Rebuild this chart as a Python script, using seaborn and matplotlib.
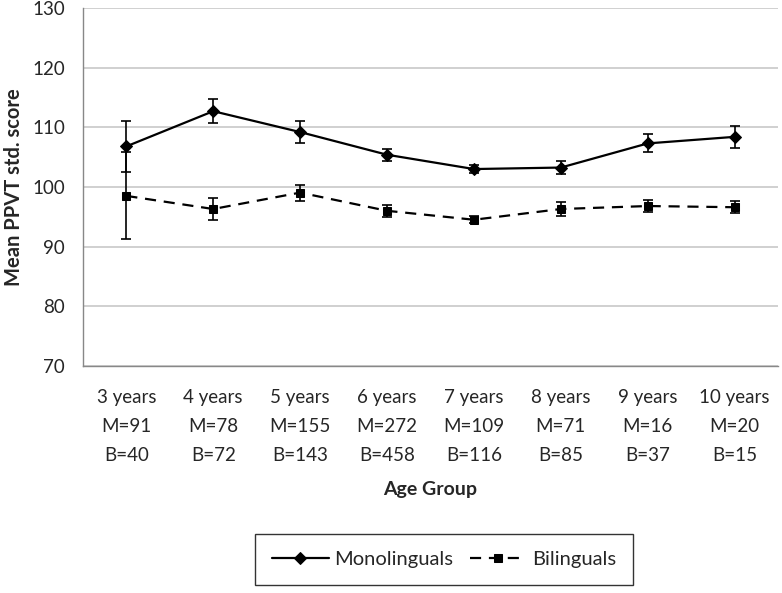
import numpy as np
import pandas as pd
import seaborn as sns
import matplotlib
matplotlib.use("Agg")
from matplotlib import pyplot as plt

# 데이터
age_groups = ['3 years', '4 years', '5 years', '6 years', '7 years', '8 years', '9 years', '10 years']
mono_n = [91, 78, 155, 272, 109, 71, 16, 20]
bi_n = [40, 72, 143, 458, 116, 85, 37, 15]
mono_mean = [106.8, 112.7, 109.2, 105.4, 103.0, 103.25, 107.3, 108.4]
mono_err = [4.3, 2.05, 1.9, 1.0, 0.7, 1.05, 1.5, 1.9]
bi_mean = [98.5, 96.3, 99.05, 96.0, 94.5, 96.3, 96.8, 96.6]
bi_err = [7.3, 1.8, 1.35, 1.05, 0.6, 1.1, 1.05, 1.05]

sns.set_style('white')
plt.rcParams['font.family'] = ['Lato', 'DejaVu Sans']

tick_labels = ['{0}\nM={1}\nB={2}'.format(a, m, b) for a, m, b in zip(age_groups, mono_n, bi_n)]
xpos = np.arange(len(age_groups))

df = pd.DataFrame({'x': xpos, 'mono': mono_mean, 'bi': bi_mean})

fig = plt.figure(figsize=(7.82, 5.93), dpi=100)
ax = fig.add_axes([0.106, 0.383, 0.889, 0.6035])

# 오차막대
ax.errorbar(xpos, mono_mean, yerr=mono_err, fmt='none', ecolor='black',
            elinewidth=1.2, capsize=3.5, capthick=1.2, zorder=3)
ax.errorbar(xpos, bi_mean, yerr=bi_err, fmt='none', ecolor='black',
            elinewidth=1.2, capsize=3.5, capthick=1.2, zorder=3)

# 선 그래프
sns.lineplot(data=df, x='x', y='mono', ax=ax, color='black', linewidth=1.6,
             marker='D', markersize=6, markeredgecolor='black', label='Monolinguals', zorder=4)
sns.lineplot(data=df, x='x', y='bi', ax=ax, color='black', linewidth=1.6,
             marker='s', markersize=5.5, markeredgecolor='black', label='Bilinguals', zorder=4)
ax.lines[-1].set_linestyle((0, (5, 3.5)))

ax.set_xlim(-0.5, 7.5)
ax.set_ylim(70, 130)
ax.set_yticks(np.arange(70, 131, 10))
ax.yaxis.grid(True, color='#c8c8c8', linewidth=1.2)
ax.set_axisbelow(True)

ax.set_xticks(xpos)
ax.set_xticklabels(tick_labels, fontsize=13.5, linespacing=1.85)
ax.set_xticks(np.arange(-0.5, 8, 1), minor=True)
ax.tick_params(axis='x', which='major', length=0, pad=17)
ax.tick_params(axis='x', which='minor', length=5, color='#888888', width=1)
ax.tick_params(axis='y', length=5, color='#888888', width=1, labelsize=13.5, pad=8)

for side in ['top', 'right']:
    ax.spines[side].set_visible(False)
for side in ['left', 'bottom']:
    ax.spines[side].set_color('#888888')
    ax.spines[side].set_linewidth(1)

ax.set_xlabel('Age Group', fontsize=14, fontweight='bold', labelpad=12)
ax.set_ylabel('Mean PPVT std. score', fontsize=14.5, fontweight='bold', labelpad=6)

handles, labels = ax.get_legend_handles_labels()
ax.get_legend().remove()
leg = fig.legend(handles, labels, loc='center', bbox_to_anchor=(0.568, 0.056), ncol=2,
                 fontsize=14.5, frameon=True, fancybox=False, edgecolor='black',
                 handlelength=2.8, handletextpad=0.3, columnspacing=0.8, borderpad=0.85)
leg.get_frame().set_linewidth(1)

fig.savefig('out.png', dpi=100)
